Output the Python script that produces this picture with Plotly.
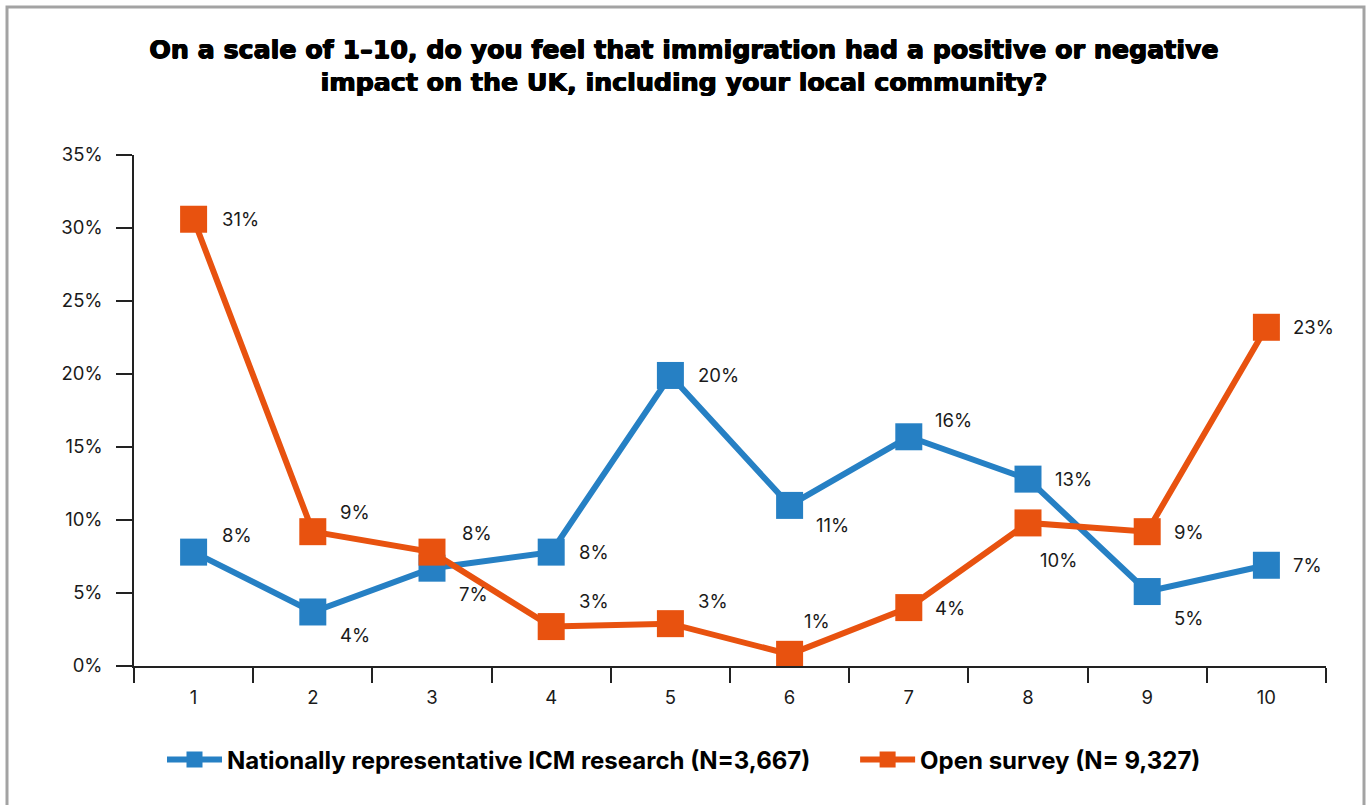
import plotly.graph_objects as go

# ---- data ----
categories = ["1", "2", "3", "4", "5", "6", "7", "8", "9", "10"]
icm_values = [7.8, 3.7, 6.7, 7.8, 19.9, 11.0, 15.7, 12.8, 5.1, 6.9]
open_values = [30.6, 9.2, 7.8, 2.7, 2.9, 0.8, 4.0, 9.8, 9.2, 23.2]
series_names = ["Nationally representative ICM research (N=3,667)",
                "Open survey (N= 9,327)"]
y_tick_values = [0, 5, 10, 15, 20, 25, 30, 35]
y_tick_labels = [f"{v}%" for v in y_tick_values]
title_text = ("On a scale of 1\u201310, do you feel that immigration had a positive or negative<br>"
              "impact on the UK, including your local community?")

# ---- style ----
BLUE = "#2680C4"
ORANGE = "#E8520F"
W, H = 1368, 805
ML, MR, MT, MB = 134, 42, 155, 139
BODY_FONT = "Inter, Roboto, sans-serif"
LEGEND_PAD = "\u00a0" * 7   # visual gap between legend entries

# label offsets (dx, dy in px; dy positive = up)
icm_offsets = [(26, 17), (25, -23), (25, -26), (26, 0), (26, 0),
               (24, -20), (24, 17), (25, 0), (25, -26), (25, 0)]
open_offsets = [(26, 0), (25, 20), (28, 19), (26, 26), (26, 23),
                (12, 33), (24, 0), (10, -37), (25, 0), (25, 0)]

fig = go.Figure()
for name, vals, col, pad in [(series_names[0], icm_values, BLUE, LEGEND_PAD),
                             (series_names[1], open_values, ORANGE, "")]:
    fig.add_trace(go.Scatter(
        x=categories, y=vals, name=name + pad, mode="lines+markers",
        line=dict(color=col, width=6),
        marker=dict(symbol="square", size=27, color=col),
        hoverinfo="skip",
    ))

annotations = []
for vals, offs in [(icm_values, icm_offsets), (open_values, open_offsets)]:
    for i, (v, (dx, dy)) in enumerate(zip(vals, offs)):
        annotations.append(dict(
            x=i, y=v, xref="x", yref="y", text=f"{round(v)}%",
            showarrow=False, xanchor="left", yanchor="middle",
            xshift=dx, yshift=dy,
            font=dict(family=BODY_FONT, size=18.5, color="#1a1a1a"),
        ))

pw = W - ML - MR
ph = H - MT - MB
def px_to_paper_x(px):
    return (px - ML) / pw
def px_to_paper_y(py):
    return (H - MB - py) / ph

fig.update_layout(
    width=W, height=H,
    margin=dict(l=ML, r=MR, t=MT, b=MB, autoexpand=False),
    paper_bgcolor="white", plot_bgcolor="white",
    title=dict(text=title_text, x=0.5, xanchor="center",
               y=1 - 58 / H, yanchor="middle", yref="container",
               font=dict(family="DejaVu Sans, sans-serif", size=25.3, color="black", weight=700,
                         shadow="0.6px 0 0 black, -0.6px 0 0 black, 0 0.5px 0 black")),
    showlegend=True,
    legend=dict(orientation="h", xref="container", x=0.5, xanchor="center",
                yref="container", y=1 - 760 / H, yanchor="middle",
                font=dict(family=BODY_FONT, size=24, color="black", weight=700),
                itemwidth=55, bgcolor="rgba(0,0,0,0)"),
    xaxis=dict(type="category", tickson="boundaries", ticks="outside", ticklen=15,
               tickwidth=1.5, tickcolor="#222", showline=True, linecolor="#222", linewidth=1.5,
               showgrid=False, zeroline=False, range=[-0.5, len(categories) - 0.5],
               ticklabelstandoff=14,
               tickfont=dict(family=BODY_FONT, size=18.5, color="#1a1a1a")),
    yaxis=dict(range=[0, 35], tickvals=y_tick_values, ticktext=y_tick_labels, ticks="outside",
               ticklen=16, tickwidth=1.5, tickcolor="#222", showline=True, linecolor="#222",
               linewidth=1.5, showgrid=False, zeroline=False, ticklabelstandoff=10,
               tickfont=dict(family=BODY_FONT, size=18.5, color="#1a1a1a")),
    annotations=annotations,
    shapes=[dict(type="rect", xref="paper", yref="paper",
                 x0=px_to_paper_x(7), x1=px_to_paper_x(1364),
                 y0=px_to_paper_y(830), y1=px_to_paper_y(7),
                 line=dict(color="#A3A3A3", width=3), fillcolor="rgba(0,0,0,0)",
                 layer="below")],
)

fig.write_html("out.html", config={"displayModeBar": False},
               post_script="document.body.style.margin='0';document.body.style.overflow='hidden';")
